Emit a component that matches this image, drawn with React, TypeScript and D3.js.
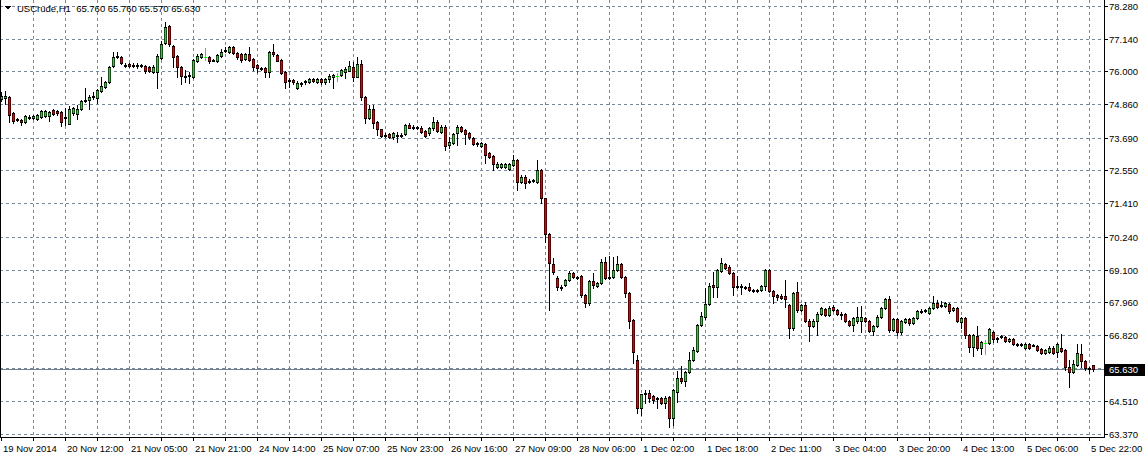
import React from "react";
import * as d3 from "d3";

const symbolTitle = "USCrude,H1";
const lastOHLC = ["65.760", "65.760", "65.570", "65.630"];
const currentPrice = 65.63;

const timeLabels = [
  "19 Nov 2014", "20 Nov 12:00", "21 Nov 05:00", "21 Nov 21:00", "24 Nov 14:00", "25 Nov 07:00",
  "25 Nov 23:00", "26 Nov 16:00", "27 Nov 09:00", "28 Nov 06:00", "1 Dec 02:00", "1 Dec 18:00",
  "2 Dec 11:00", "3 Dec 04:00", "3 Dec 20:00", "4 Dec 13:00", "5 Dec 06:00", "5 Dec 22:00",
];

const priceTicks = [78.28, 77.14, 76.0, 74.86, 73.69, 72.55, 71.41, 70.24, 69.1, 67.96, 66.82, 65.67, 64.51, 63.37];

const opens = [
  75.04, 75.08, 75.11, 74.55, 74.30, 74.30, 74.23, 74.43, 74.38, 74.33,
  74.42, 74.44, 74.46, 74.65, 74.62, 74.60, 74.42, 74.18, 74.54, 74.53,
  74.69, 74.99, 74.99, 75.11, 75.09, 75.33, 75.46, 75.64, 76.19, 76.49,
  76.50, 76.24, 76.25, 76.24, 76.24, 76.23, 76.19, 76.17, 75.99, 75.97,
  76.48, 76.98, 77.58, 76.88, 76.54, 76.15, 75.85, 75.83, 75.82, 76.37,
  76.51, 76.50, 76.50, 76.41, 76.36, 76.55, 76.71, 76.67, 76.84, 76.65,
  76.60, 76.42, 76.60, 76.43, 76.22, 76.12, 76.13, 75.97, 76.69, 76.58,
  76.40, 75.97, 75.66, 75.70, 75.42, 75.55, 75.62, 75.64, 75.72, 75.64,
  75.73, 75.62, 75.72, 75.80, 75.85, 75.87, 75.99, 76.03, 76.17, 75.82,
  76.25, 75.10, 74.39, 74.69, 74.23, 73.98, 73.80, 73.81, 73.71, 73.79,
  73.76, 73.81, 74.13, 74.04, 74.07, 74.04, 73.92, 73.84, 74.04, 74.23,
  73.88, 74.08, 73.44, 73.50, 73.84, 74.05, 73.96, 73.84, 73.69, 73.50,
  73.41, 73.46, 73.15, 73.05, 72.68, 72.67, 72.67, 72.60, 72.74, 72.90,
  72.16, 72.34, 72.19, 72.19, 72.16, 72.57, 71.58, 70.33, 69.29, 68.80,
  68.50, 68.56, 68.73, 68.99, 68.83, 68.87, 68.21, 67.92, 68.70, 68.53,
  68.62, 69.35, 68.79, 68.83, 69.10, 69.29, 68.83, 68.29, 67.34, 65.95,
  64.26, 64.78, 64.79, 64.69, 64.59, 64.63, 64.46, 64.66, 63.91, 64.84,
  65.32, 65.23, 65.54, 65.95, 66.26, 67.17, 67.46, 67.90, 68.56, 68.48,
  69.06, 69.29, 69.20, 68.97, 68.50, 68.52, 68.48, 68.48, 68.40, 68.37,
  68.39, 68.53, 69.08, 68.36, 68.21, 68.19, 68.18, 67.86, 67.05, 68.30,
  67.69, 67.86, 67.32, 67.14, 67.32, 67.54, 67.71, 67.51, 67.80, 67.69,
  67.54, 67.54, 67.31, 67.17, 67.29, 67.29, 67.42, 67.31, 66.96, 67.14,
  67.46, 67.75, 68.06, 66.99, 67.37, 66.91, 67.28, 67.37, 67.25, 67.42,
  67.64, 67.67, 67.58, 67.77, 67.93, 67.87, 67.82, 67.90, 67.68, 67.77,
  67.28, 67.42, 66.82, 66.41, 66.78, 66.37, 66.53, 66.53, 66.93, 66.70,
  66.74, 66.75, 66.61, 66.67, 66.50, 66.48, 66.38, 66.50, 66.45, 66.44,
  66.32, 66.18, 66.24, 66.38, 66.21, 66.38, 66.30, 65.71, 65.54, 65.77,
  66.15, 65.91, 65.66, 65.76,
];

const highs = [
  75.28, 75.32, 75.14, 74.58, 74.38, 74.34, 74.47, 74.48, 74.50, 74.52,
  74.65, 74.66, 74.62, 74.70, 74.66, 74.63, 74.72, 74.81, 74.76, 74.83,
  75.00, 75.43, 75.18, 75.30, 75.38, 75.81, 75.68, 76.20, 76.69, 76.69,
  76.55, 76.30, 76.30, 76.28, 76.28, 76.27, 76.24, 76.20, 76.22, 76.60,
  77.07, 77.73, 77.62, 76.92, 76.58, 76.20, 76.05, 75.97, 76.43, 76.62,
  76.64, 76.81, 76.53, 76.45, 76.60, 76.78, 76.86, 76.88, 76.87, 76.68,
  76.63, 76.64, 76.84, 76.46, 76.25, 76.16, 76.16, 76.72, 76.95, 76.62,
  76.42, 76.00, 75.78, 75.74, 75.65, 75.64, 75.70, 75.78, 75.76, 75.77,
  75.77, 75.77, 75.90, 75.92, 75.93, 76.08, 76.17, 76.36, 76.34, 76.51,
  76.40, 75.14, 74.83, 74.83, 74.26, 74.00, 73.84, 73.85, 73.88, 73.88,
  73.86, 74.16, 74.19, 74.12, 74.10, 74.11, 73.96, 74.06, 74.42, 74.31,
  74.12, 74.12, 73.73, 73.86, 74.13, 74.09, 74.00, 73.88, 73.72, 73.55,
  73.53, 73.52, 73.20, 73.08, 72.83, 72.82, 72.81, 72.82, 73.09, 72.95,
  72.38, 72.38, 72.24, 72.26, 72.92, 72.60, 71.60, 70.36, 69.49, 68.86,
  68.55, 68.78, 69.04, 69.03, 68.87, 68.90, 68.25, 68.73, 68.97, 68.68,
  69.45, 69.55, 69.57, 69.55, 69.57, 69.33, 68.86, 68.32, 67.38, 66.12,
  64.78, 64.90, 64.90, 64.72, 64.67, 64.67, 64.68, 64.69, 64.93, 65.57,
  65.74, 65.58, 66.24, 66.41, 67.20, 67.63, 68.44, 68.64, 69.02, 69.12,
  69.49, 69.34, 69.24, 69.00, 68.88, 68.60, 68.52, 68.64, 68.43, 68.43,
  68.57, 69.12, 69.12, 68.40, 68.25, 68.23, 68.73, 67.90, 68.30, 68.68,
  67.90, 67.98, 67.36, 67.36, 67.61, 67.80, 67.75, 67.82, 67.85, 67.73,
  67.63, 67.58, 67.35, 67.44, 67.80, 67.84, 67.46, 67.35, 67.18, 67.50,
  67.79, 68.12, 68.19, 67.41, 67.41, 67.35, 67.41, 67.41, 67.46, 67.69,
  67.71, 67.74, 67.80, 68.19, 68.04, 68.00, 67.97, 67.94, 67.81, 67.81,
  67.46, 67.46, 66.86, 66.86, 67.14, 66.60, 66.64, 67.07, 66.97, 66.74,
  66.81, 66.79, 66.72, 66.71, 66.53, 66.53, 66.54, 66.54, 66.50, 66.48,
  66.36, 66.34, 66.42, 66.42, 66.54, 66.84, 66.34, 65.95, 65.95, 66.50,
  66.50, 65.95, 65.71, 65.76,
];

const lows = [
  74.97, 74.87, 74.24, 74.20, 74.27, 74.13, 74.20, 74.36, 74.35, 74.30,
  74.39, 74.40, 74.27, 74.48, 74.50, 74.11, 74.14, 74.16, 74.50, 74.34,
  74.66, 74.93, 74.69, 75.05, 74.90, 75.30, 75.42, 75.60, 76.15, 76.46,
  76.25, 76.15, 76.14, 76.14, 76.13, 76.14, 75.93, 75.98, 75.93, 75.43,
  76.44, 76.95, 76.90, 76.14, 75.82, 75.55, 75.64, 75.59, 75.78, 76.33,
  76.48, 76.40, 76.28, 76.35, 76.33, 76.52, 76.68, 76.64, 76.60, 76.45,
  76.34, 76.39, 76.37, 76.05, 75.99, 76.04, 75.82, 75.82, 76.55, 76.35,
  75.90, 75.43, 75.47, 75.55, 75.38, 75.48, 75.56, 75.60, 75.64, 75.60,
  75.58, 75.58, 75.64, 75.43, 75.67, 75.83, 75.78, 76.01, 75.67, 75.80,
  75.00, 74.19, 74.36, 74.04, 73.79, 73.72, 73.72, 73.67, 73.66, 73.55,
  73.72, 73.78, 74.02, 74.00, 74.00, 73.84, 73.72, 73.80, 73.96, 73.88,
  73.85, 73.26, 73.32, 73.47, 73.43, 73.89, 73.46, 73.66, 73.43, 73.42,
  73.38, 72.80, 72.98, 72.57, 72.64, 72.62, 72.62, 72.55, 72.70, 71.87,
  72.12, 71.93, 72.10, 72.15, 72.10, 71.42, 70.07, 67.69, 68.95, 68.39,
  68.40, 68.52, 68.70, 68.79, 68.76, 68.15, 67.80, 67.88, 68.45, 68.49,
  68.58, 68.76, 68.77, 68.80, 69.06, 68.80, 68.15, 67.06, 65.83, 64.09,
  64.03, 64.44, 64.50, 64.44, 64.26, 64.40, 64.26, 63.60, 63.68, 64.49,
  65.13, 65.04, 65.50, 65.92, 66.22, 67.13, 67.37, 67.86, 68.15, 68.15,
  69.00, 69.13, 68.93, 68.21, 68.46, 68.24, 68.42, 68.35, 68.33, 68.33,
  68.36, 68.39, 68.32, 67.92, 68.04, 68.06, 67.80, 66.70, 66.99, 67.63,
  67.65, 67.28, 66.62, 67.10, 66.82, 67.50, 67.47, 67.47, 67.65, 67.50,
  67.37, 67.27, 67.13, 66.96, 67.25, 66.93, 67.27, 66.93, 66.82, 67.10,
  67.42, 67.71, 66.93, 66.95, 66.82, 66.87, 67.24, 67.18, 67.21, 67.38,
  67.60, 67.63, 67.54, 67.74, 67.77, 67.80, 67.78, 67.58, 67.64, 67.26,
  67.05, 66.72, 66.24, 66.09, 66.29, 66.15, 66.15, 66.49, 66.57, 66.59,
  66.70, 66.57, 66.57, 66.46, 66.45, 66.45, 66.34, 66.34, 66.42, 66.26,
  66.16, 66.14, 66.20, 66.16, 66.06, 66.22, 65.60, 64.99, 65.50, 65.73,
  65.71, 65.60, 65.48, 65.57,
];

const closes = [
  75.14, 75.14, 74.48, 74.27, 74.34, 74.25, 74.44, 74.39, 74.45, 74.48,
  74.62, 74.62, 74.58, 74.52, 74.55, 74.25, 74.40, 74.69, 74.72, 74.69,
  74.97, 74.97, 75.12, 75.15, 75.34, 75.49, 75.64, 76.17, 76.49, 76.54,
  76.28, 76.22, 76.18, 76.18, 76.19, 76.18, 76.02, 76.02, 76.17, 76.55,
  76.95, 77.54, 76.95, 76.51, 76.15, 75.85, 75.82, 75.86, 76.40, 76.55,
  76.61, 76.50, 76.38, 76.38, 76.57, 76.69, 76.73, 76.85, 76.63, 76.49,
  76.40, 76.60, 76.40, 76.17, 76.11, 76.08, 75.97, 76.69, 76.60, 76.38,
  75.93, 75.64, 75.70, 75.62, 75.61, 75.59, 75.65, 75.73, 75.68, 75.73,
  75.62, 75.73, 75.85, 75.88, 75.85, 76.05, 76.07, 76.19, 75.82, 76.25,
  75.12, 74.39, 74.69, 74.21, 73.98, 73.76, 73.76, 73.71, 73.84, 73.75,
  73.80, 74.13, 74.04, 74.08, 74.04, 73.90, 73.76, 74.02, 74.23, 73.93,
  74.08, 73.41, 73.53, 73.82, 74.05, 73.93, 73.82, 73.71, 73.46, 73.47,
  73.49, 73.09, 73.03, 72.76, 72.79, 72.78, 72.77, 72.78, 72.90, 72.16,
  72.34, 72.11, 72.15, 72.22, 72.57, 71.58, 70.33, 69.32, 69.00, 68.48,
  68.45, 68.73, 68.99, 68.83, 68.80, 68.21, 67.92, 68.70, 68.56, 68.64,
  69.37, 68.80, 68.83, 69.08, 69.29, 68.83, 68.27, 67.32, 66.24, 64.26,
  64.75, 64.81, 64.61, 64.55, 64.63, 64.44, 64.64, 63.91, 64.90, 65.33,
  65.23, 65.54, 65.95, 66.30, 67.17, 67.49, 67.90, 68.52, 68.48, 69.08,
  69.32, 69.17, 68.97, 68.48, 68.53, 68.49, 68.46, 68.39, 68.37, 68.39,
  68.53, 69.08, 68.36, 68.17, 68.13, 68.10, 68.06, 67.05, 68.27, 67.69,
  67.86, 67.32, 67.14, 67.32, 67.54, 67.75, 67.51, 67.77, 67.69, 67.54,
  67.50, 67.31, 67.17, 67.40, 67.43, 67.43, 67.31, 66.96, 67.14, 67.46,
  67.75, 68.06, 66.99, 67.37, 66.91, 67.31, 67.37, 67.22, 67.42, 67.65,
  67.67, 67.70, 67.75, 67.93, 67.81, 67.84, 67.93, 67.66, 67.77, 67.30,
  67.42, 66.82, 66.41, 66.82, 66.35, 66.56, 66.53, 67.03, 66.68, 66.67,
  66.77, 66.61, 66.68, 66.50, 66.48, 66.50, 66.50, 66.38, 66.47, 66.30,
  66.20, 66.30, 66.38, 66.20, 66.50, 66.26, 65.71, 65.54, 65.80, 66.18,
  65.91, 65.66, 65.64, 65.63,
];

const W = 1145;
const H = 457;
const PLOT_RIGHT = 1104;
const PLOT_BOTTOM = 437;
const FONT = "'Liberation Sans', Arial, sans-serif";
const GRID = "#778899";
const BULL = "#32cd32";
const BEAR = "#e60000";
const BULL_EDGE = "#164f16";
const BEAR_EDGE = "#5a0000";
const DOJI = "#00ff00";

export default function App() {
  const n = opens.length;
  const x = d3.scaleLinear().domain([0, n - 1]).range([1, 1 + 4 * (n - 1)]);
  const y = d3.scaleLinear().domain([63.37, 78.28]).range([434, 6]);
  const py = (v: number) => Math.round(y(v));

  const vGrid = d3.range(8, n, 8).map((i) => Math.round(x(i)));
  const labelIdx = timeLabels.map((_, k) => k * 16);

  const candles = opens.map((o, i) => {
    const c = closes[i];
    const cx = Math.round(x(i));
    const yh = py(highs[i]);
    const yl = py(lows[i]);
    const yo = py(o);
    const yc = py(c);
    if (Math.abs(o - c) < 0.005) {
      return (
        <g key={i}>
          <line x1={cx + 0.5} x2={cx + 0.5} y1={yh} y2={yl + 1} stroke={DOJI} strokeWidth={1} />
          <line x1={cx - 1} x2={cx + 2} y1={yo + 0.5} y2={yo + 0.5} stroke={DOJI} strokeWidth={1} />
        </g>
      );
    }
    const top = Math.min(yo, yc);
    const bot = Math.max(yo, yc);
    const bull = c > o;
    const fill = bull ? BULL : BEAR;
    const edge = bull ? BULL_EDGE : BEAR_EDGE;
    const h = Math.max(bot - top, 1);
    return (
      <g key={i}>
        <line x1={cx + 0.5} x2={cx + 0.5} y1={yh} y2={yl + 1} stroke="#000" strokeWidth={1} />
        <rect x={cx - 1} y={top} width={3} height={h + 1} fill="#000" />
        {h >= 2 && (
          <>
            <rect x={cx - 1} y={top + 1} width={1} height={h - 1} fill={edge} />
            <rect x={cx + 1} y={top + 1} width={1} height={h - 1} fill={edge} />
            <rect x={cx} y={top + 1} width={1} height={h - 1} fill={fill} />
          </>
        )}
      </g>
    );
  });

  const cpY = py(currentPrice);

  return (
    <div style={{ position: "absolute", left: 0, top: 0 }}>
      <svg width={W} height={H} style={{ display: "block", background: "#fff" }} shapeRendering="crispEdges">
        <rect x={0} y={0} width={W} height={H} fill="#fff" />
        {priceTicks.map((t) => (
          <line key={"hg" + t} x1={0} x2={PLOT_RIGHT} y1={py(t) + 0.5} y2={py(t) + 0.5}
            stroke={GRID} strokeWidth={1} strokeDasharray="3,3" />
        ))}
        {vGrid.map((gx) => (
          <line key={"vg" + gx} x1={gx + 0.5} x2={gx + 0.5} y1={0} y2={PLOT_BOTTOM}
            stroke={GRID} strokeWidth={1} strokeDasharray="3,3" />
        ))}
        <line x1={0} x2={PLOT_RIGHT} y1={cpY + 0.5} y2={cpY + 0.5} stroke="#708090" strokeWidth={1} />
        {candles}
        <line x1={0.5} x2={0.5} y1={0} y2={PLOT_BOTTOM} stroke="#000" />
        <line x1={PLOT_RIGHT + 0.5} x2={PLOT_RIGHT + 0.5} y1={0} y2={PLOT_BOTTOM + 1} stroke="#000" />
        <line x1={0} x2={PLOT_RIGHT + 1} y1={PLOT_BOTTOM + 0.5} y2={PLOT_BOTTOM + 0.5} stroke="#000" />
        {priceTicks.map((t) => (
          <g key={"pt" + t}>
            <line x1={PLOT_RIGHT + 1} x2={PLOT_RIGHT + 4} y1={py(t) + 0.5} y2={py(t) + 0.5} stroke="#000" />
            <text x={PLOT_RIGHT + 5} y={py(t) + 4} fontFamily={FONT} fontSize={9.5} fill="#000">
              {t.toFixed(3)}
            </text>
          </g>
        ))}
        <rect x={PLOT_RIGHT + 1} y={cpY - 5} width={W - PLOT_RIGHT - 1} height={12} fill="#000" />
        <text x={PLOT_RIGHT + 5} y={cpY + 4} fontFamily={FONT} fontSize={9.5} fill="#fff">
          {currentPrice.toFixed(3)}
        </text>
        {[0, ...d3.range(8, n, 8)].map((i) => (
          <line key={"bt" + i} x1={Math.round(x(i)) + 0.5} x2={Math.round(x(i)) + 0.5}
            y1={PLOT_BOTTOM} y2={PLOT_BOTTOM + 4} stroke="#000" />
        ))}
        {labelIdx.map((i, k) => (
          <text key={"tl" + k} x={Math.round(x(i)) + 2} y={452} fontFamily={FONT} fontSize={9.5} fill="#000">
            {timeLabels[k]}
          </text>
        ))}
        <path d="M5,6 L11,6 L8,10 Z" fill="#000" />
        <text x={17} y={12} fontFamily={FONT} fontSize={9.5} fill="#000" xmlSpace="preserve">
          {symbolTitle + "  " + lastOHLC.join(" ")}
        </text>
      </svg>
    </div>
  );
}
